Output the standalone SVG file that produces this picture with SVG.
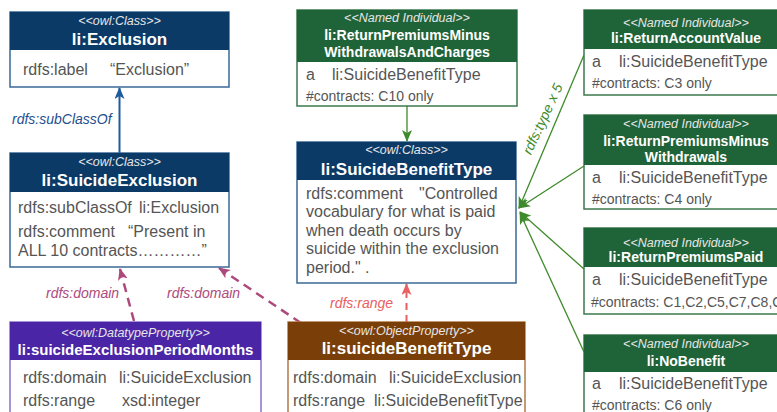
<svg xmlns="http://www.w3.org/2000/svg" width="777" height="412" viewBox="0 0 777 412">
  <style>
    text { font-family: "Liberation Sans", Arial, sans-serif; }
    .stereo { font-size: 12.5px; font-style: italic; fill: #e6e6e6; text-anchor: middle; }
    .title { font-size: 17px; font-weight: bold; fill: #ffffff; text-anchor: middle; }
    .title-sm { font-size: 14px; font-weight: bold; fill: #ffffff; text-anchor: middle; }
    .title-md { font-size: 15px; font-weight: bold; fill: #ffffff; text-anchor: middle; }
    .body { font-size: 16px; fill: #555555; }
    .note { font-size: 14px; fill: #555555; }
    .box { fill: #ffffff; stroke-width: 1.5; }
    .cls .box { stroke: #3b6896; }
    .cls .hdr { fill: #0b3a66; }
    .ind .box { stroke: #3c7a4c; }
    .ind .hdr { fill: #1f6338; }
    .dtp .box { stroke: #8a70cc; }
    .dtp .hdr { fill: #4a25a5; }
    .obj .box { stroke: #b07a45; }
    .obj .hdr { fill: #7a3f08; }
    .lbl { font-size: 14px; font-style: italic; }
    .sub { stroke: #1f5c9e; stroke-width: 2; fill: none; }
    .dom { stroke: #ad4a7c; stroke-width: 2.5; fill: none; stroke-dasharray: 9 6; }
    .rng { stroke: #e86060; stroke-width: 2; fill: none; stroke-dasharray: 7 5; }
    .typ { stroke: #3f8a2c; stroke-width: 1.3; fill: none; }
  </style>
  <defs>
    <marker id="arrow-blue" viewBox="0 0 12 10" refX="11" refY="5" markerWidth="12" markerHeight="10" markerUnits="userSpaceOnUse" orient="auto">
      <path d="M0,0 L12,5 L0,10 L3,5 z" fill="#1f5c9e"/>
    </marker>
    <marker id="arrow-mauve" viewBox="0 0 12 10" refX="11" refY="5" markerWidth="12" markerHeight="10" markerUnits="userSpaceOnUse" orient="auto">
      <path d="M0,0 L12,5 L0,10 L3,5 z" fill="#ad4a7c"/>
    </marker>
    <marker id="arrow-red" viewBox="0 0 12 10" refX="11" refY="5" markerWidth="12" markerHeight="10" markerUnits="userSpaceOnUse" orient="auto">
      <path d="M0,0 L12,5 L0,10 L3,5 z" fill="#e86060"/>
    </marker>
    <marker id="arrow-green" viewBox="0 0 12 10" refX="11" refY="5" markerWidth="12" markerHeight="10" markerUnits="userSpaceOnUse" orient="auto">
      <path d="M0,0 L12,5 L0,10 L3,5 z" fill="#3f8a2c"/>
    </marker>
  </defs>

  <!-- connectors -->
  <g id="connectors">
    <line class="sub" x1="119.5" y1="153" x2="119.5" y2="88" marker-end="url(#arrow-blue)"/>
    <text class="lbl" x="12" y="124" fill="#1f4f8f">rdfs:subClassOf</text>

    <line class="dom" x1="134" y1="321" x2="120" y2="269" marker-end="url(#arrow-mauve)"/>
    <text class="lbl" x="46" y="298" fill="#ad4a7c">rdfs:domain</text>
    <line class="dom" x1="301" y1="323" x2="219" y2="268" marker-end="url(#arrow-mauve)"/>
    <text class="lbl" x="167" y="298" fill="#ad4a7c">rdfs:domain</text>

    <line class="rng" x1="406.5" y1="322" x2="406.5" y2="284" marker-end="url(#arrow-red)"/>
    <text class="lbl" x="330" y="308" fill="#e86060">rdfs:range</text>

    <line class="typ" x1="407" y1="106" x2="407" y2="141" marker-end="url(#arrow-green)" stroke-width="1.5"/>
    <line class="typ" x1="584" y1="55" x2="519" y2="208" marker-end="url(#arrow-green)"/>
    <line class="typ" x1="584" y1="166" x2="519" y2="208" marker-end="url(#arrow-green)"/>
    <line class="typ" x1="584" y1="269" x2="520" y2="212" marker-end="url(#arrow-green)"/>
    <line class="typ" x1="584" y1="352" x2="520" y2="213" marker-end="url(#arrow-green)"/>
    <text class="lbl" font-size="15" x="0" y="0" fill="#3f8a2c" text-anchor="middle" transform="translate(547,121) rotate(-65)">rdfs:type x 5</text>
  </g>

  <!-- li:Exclusion -->
  <g id="exclusion" class="cls">
    <rect class="box" x="10" y="12" width="219" height="75"/>
    <rect class="hdr" x="10" y="12" width="219" height="38"/>
    <text class="stereo" x="119.5" y="25">&lt;&lt;owl:Class&gt;&gt;</text>
    <text class="title" x="119.5" y="45">li:Exclusion</text>
    <text class="body" x="23" y="75">rdfs:label<tspan x="110">“Exclusion”</tspan></text>
  </g>

  <!-- li:SuicideExclusion -->
  <g id="suicide-exclusion" class="cls">
    <rect class="box" x="10" y="153" width="219" height="114"/>
    <rect class="hdr" x="10" y="153" width="219" height="39"/>
    <text class="stereo" x="119.5" y="166">&lt;&lt;owl:Class&gt;&gt;</text>
    <text class="title" x="119.5" y="186">li:SuicideExclusion</text>
    <text class="body" x="18" y="213">rdfs:subClassOf<tspan x="139">li:Exclusion</tspan></text>
    <text class="body" x="18" y="237">rdfs:comment<tspan x="128">“Present in</tspan></text>
    <text class="body" x="18" y="256">ALL 10 contracts…………”</text>
  </g>

  <!-- li:suicideExclusionPeriodMonths -->
  <g id="suicide-exclusion-period-months" class="dtp">
    <rect class="box" x="10" y="322" width="251" height="100"/>
    <rect class="hdr" x="10" y="322" width="251" height="38"/>
    <text class="stereo" x="135.5" y="337">&lt;&lt;owl:DatatypeProperty&gt;&gt;</text>
    <text class="title-md" x="135.5" y="355">li:suicideExclusionPeriodMonths</text>
    <text class="body" x="23" y="383">rdfs:domain<tspan x="119">li:SuicideExclusion</tspan></text>
    <text class="body" x="23" y="406">rdfs:range<tspan x="122">xsd:integer</tspan></text>
  </g>

  <!-- li:ReturnPremiumsMinusWithdrawalsAndCharges -->
  <g id="return-premiums-minus-withdrawals-and-charges" class="ind">
    <rect class="box" x="297" y="10" width="220" height="96"/>
    <rect class="hdr" x="297" y="10" width="220" height="52"/>
    <text class="stereo" x="407" y="22">&lt;&lt;Named Individual&gt;&gt;</text>
    <text class="title-sm" x="407" y="40">li:ReturnPremiumsMinus</text>
    <text class="title-sm" x="407" y="57">WithdrawalsAndCharges</text>
    <text class="body" x="306" y="80">a<tspan x="332">li:SuicideBenefitType</tspan></text>
    <text class="note" x="306" y="101">#contracts: C10 only</text>
  </g>

  <!-- li:SuicideBenefitType -->
  <g id="suicide-benefit-type" class="cls">
    <rect class="box" x="297" y="142" width="219" height="141"/>
    <rect class="hdr" x="297" y="142" width="219" height="38"/>
    <text class="stereo" x="406.5" y="154">&lt;&lt;owl:Class&gt;&gt;</text>
    <text class="title" x="406.5" y="175">li:SuicideBenefitType</text>
    <text class="body" x="306" y="199">rdfs:comment<tspan x="419">"Controlled</tspan></text>
    <text class="body" x="306" y="217">vocabulary for what is paid</text>
    <text class="body" x="306" y="235.5">when death occurs by</text>
    <text class="body" x="306" y="254">suicide within the exclusion</text>
    <text class="body" x="306" y="272.5">period." .</text>
  </g>

  <!-- li:suicideBenefitType -->
  <g id="suicide-benefit-type-property" class="obj">
    <rect class="box" x="288" y="322" width="237" height="100"/>
    <rect class="hdr" x="288" y="322" width="237" height="38"/>
    <text class="stereo" x="406.5" y="335">&lt;&lt;owl:ObjectProperty&gt;&gt;</text>
    <text class="title" x="406.5" y="354">li:suicideBenefitType</text>
    <text class="body" x="293" y="383">rdfs:domain<tspan x="389">li:SuicideExclusion</tspan></text>
    <text class="body" x="293" y="406">rdfs:range<tspan x="374">li:SuicideBenefitType</tspan></text>
  </g>

  <!-- li:ReturnAccountValue -->
  <g id="return-account-value" class="ind">
    <rect class="box" x="584" y="10" width="204" height="85"/>
    <rect class="hdr" x="584" y="10" width="204" height="39"/>
    <text class="stereo" x="686" y="27">&lt;&lt;Named Individual&gt;&gt;</text>
    <text class="title-sm" x="686" y="43">li:ReturnAccountValue</text>
    <text class="body" x="592" y="67">a<tspan x="619">li:SuicideBenefitType</tspan></text>
    <text class="note" x="592" y="88">#contracts: C3 only</text>
  </g>

  <!-- li:ReturnPremiumsMinusWithdrawals -->
  <g id="return-premiums-minus-withdrawals" class="ind">
    <rect class="box" x="584" y="115" width="204" height="94"/>
    <rect class="hdr" x="584" y="115" width="204" height="50"/>
    <text class="stereo" x="686" y="128">&lt;&lt;Named Individual&gt;&gt;</text>
    <text class="title-sm" x="686" y="146">li:ReturnPremiumsMinus</text>
    <text class="title-sm" x="686" y="162">Withdrawals</text>
    <text class="body" x="592" y="183">a<tspan x="619">li:SuicideBenefitType</tspan></text>
    <text class="note" x="592" y="204">#contracts: C4 only</text>
  </g>

  <!-- li:ReturnPremiumsPaid -->
  <g id="return-premiums-paid" class="ind">
    <rect class="box" x="584" y="228" width="204" height="86"/>
    <rect class="hdr" x="584" y="228" width="204" height="39"/>
    <text class="stereo" x="686" y="247">&lt;&lt;Named Individual&gt;&gt;</text>
    <text class="title-sm" x="686" y="262">li:ReturnPremiumsPaid</text>
    <text class="body" x="592" y="285">a<tspan x="619">li:SuicideBenefitType</tspan></text>
    <text class="note" x="591" y="307" font-size="13">#contracts: C1,C2,C5,C7,C8,C9</text>
  </g>

  <!-- li:NoBenefit -->
  <g id="no-benefit" class="ind">
    <rect class="box" x="584" y="335" width="204" height="90"/>
    <rect class="hdr" x="584" y="335" width="204" height="37"/>
    <text class="stereo" x="686" y="348">&lt;&lt;Named Individual&gt;&gt;</text>
    <text class="title-sm" x="686" y="366">li:NoBenefit</text>
    <text class="body" x="592" y="389">a<tspan x="619">li:SuicideBenefitType</tspan></text>
    <text class="note" x="592" y="410">#contracts: C6 only</text>
  </g>
</svg>
